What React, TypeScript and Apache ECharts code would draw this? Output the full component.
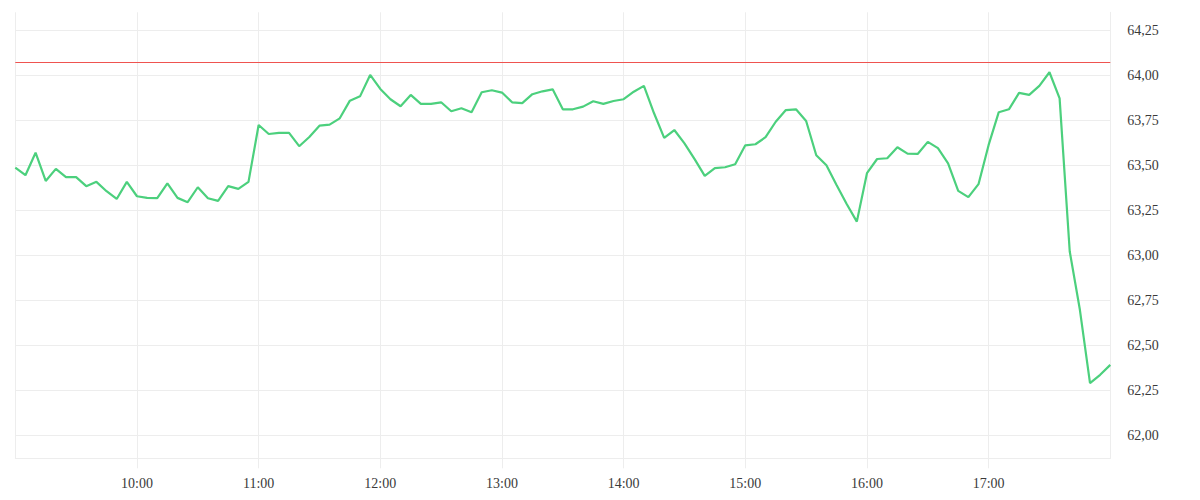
import React, { useEffect, useRef } from "react";
import * as echarts from "echarts";

// Session: 09:00 -> 18:00, one price every 5 minutes
const SESSION_START_MIN = 9 * 60;
const SESSION_END_MIN = 18 * 60;
const STEP_MIN = 5;

const prices: number[] = [
  63.487, 63.445, 63.570, 63.413, 63.480, 63.434, 63.434, 63.384, 63.408, 63.356,
  63.313, 63.408, 63.328, 63.319, 63.317, 63.400, 63.319, 63.295, 63.378, 63.317,
  63.302, 63.384, 63.369, 63.408, 63.724, 63.674, 63.680, 63.680, 63.606, 63.657,
  63.720, 63.726, 63.761, 63.859, 63.883, 64.002, 63.924, 63.867, 63.828, 63.891,
  63.841, 63.841, 63.850, 63.800, 63.817, 63.795, 63.906, 63.917, 63.904, 63.850,
  63.845, 63.895, 63.911, 63.922, 63.811, 63.811, 63.826, 63.856, 63.841, 63.857,
  63.867, 63.909, 63.941, 63.789, 63.652, 63.696, 63.622, 63.534, 63.441, 63.484,
  63.489, 63.506, 63.611, 63.617, 63.656, 63.742, 63.807, 63.811, 63.746, 63.556,
  63.500, 63.391, 63.285, 63.187, 63.456, 63.535, 63.539, 63.600, 63.565, 63.563,
  63.630, 63.595, 63.511, 63.358, 63.323, 63.395, 63.613, 63.795, 63.811, 63.902,
  63.891, 63.941, 64.017, 63.872, 63.021, 62.697, 62.290, 62.336, 62.391,
];

const priceLineValue = 64.07;
const yTickValues: number[] = [62.0, 62.25, 62.5, 62.75, 63.0, 63.25, 63.5, 63.75, 64.0, 64.25];
const yMin = 61.872;
const yMax = 64.35;

const GRID_COLOR = "#ededed";
const TEXT_COLOR = "#3a3a3a";
const FONT = "'Liberation Serif', 'Times New Roman', serif";

export default function App() {
  const ref = useRef<HTMLDivElement>(null);

  useEffect(() => {
    if (!ref.current) return;
    const chart = echarts.init(ref.current, undefined, { renderer: "svg" });
    const seriesData = prices.map((p, i) => [SESSION_START_MIN + i * STEP_MIN, p]);
    chart.setOption({
      animation: false,
      backgroundColor: "#ffffff",
      grid: {
        left: 15.3,
        right: 89.7,
        top: 12.3,
        bottom: 41.7,
        containLabel: false,
        outerBoundsMode: "none",
      },
      xAxis: {
        type: "value",
        min: SESSION_START_MIN,
        max: SESSION_END_MIN,
        interval: 60,
        axisLine: { show: true, onZero: false, lineStyle: { color: GRID_COLOR, width: 1 } },
        axisTick: { show: true, length: 10, lineStyle: { color: GRID_COLOR, width: 1 } },
        splitLine: { show: true, lineStyle: { color: GRID_COLOR, width: 1 } },
        axisLabel: {
          showMinLabel: false,
          showMaxLabel: false,
          color: TEXT_COLOR,
          fontFamily: FONT,
          fontSize: 14,
          margin: 18,
          formatter: (v: number) => {
            const h = Math.floor(v / 60);
            const m = Math.round(v % 60);
            return `${String(h).padStart(2, "0")}:${String(m).padStart(2, "0")}`;
          },
        },
      },
      yAxis: {
        type: "value",
        position: "right",
        min: yMin,
        max: yMax,
        scale: true,
        axisLine: { show: true, onZero: false, lineStyle: { color: GRID_COLOR, width: 1 } },
        axisTick: { show: false, customValues: yTickValues },
        splitLine: { show: true, lineStyle: { color: GRID_COLOR, width: 1 } },
        axisLabel: {
          customValues: yTickValues,
          color: TEXT_COLOR,
          fontFamily: FONT,
          fontSize: 14,
          margin: 17,
          padding: [4, 0, 0, 0],
          formatter: (v: number) => v.toFixed(2).replace(".", ","),
        },
      },
      series: [
        {
          type: "line",
          data: seriesData,
          showSymbol: false,
          symbol: "none",
          smooth: false,
          lineStyle: { color: "#4cd07d", width: 2.2 },
          itemStyle: { color: "#4cd07d" },
          markLine: {
            silent: true,
            symbol: "none",
            label: { show: false },
            lineStyle: { color: "#ef5350", width: 1, type: "solid" },
            data: [{ yAxis: priceLineValue }],
          },
        },
      ],
    });
    return () => chart.dispose();
  }, []);

  return (
    <div
      ref={ref}
      style={{ position: "fixed", left: 0, top: 0, width: 1200, height: 500, background: "#fff" }}
    />
  );
}
